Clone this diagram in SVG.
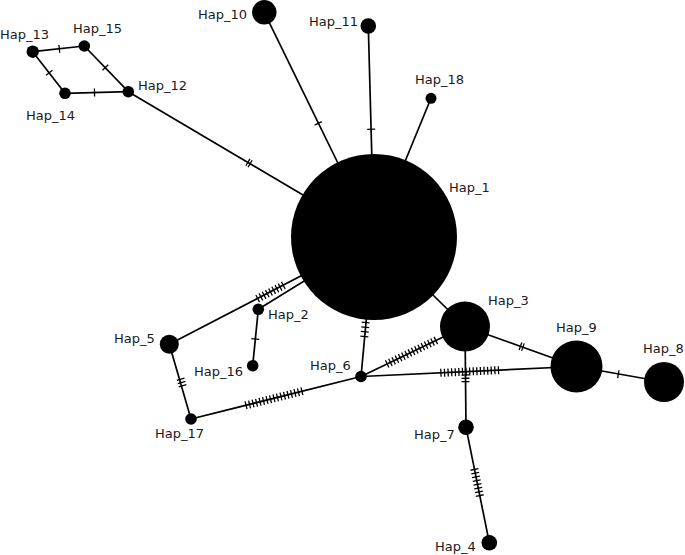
<svg xmlns="http://www.w3.org/2000/svg" width="685" height="555" viewBox="0 0 685 555">
<style>
.e{stroke:#000;stroke-width:1.7;fill:none}
.t{stroke:#000;stroke-width:1.3;fill:none}
.n{fill:#000}
text{font-family:"DejaVu Sans","Verdana",sans-serif;font-size:13px;fill:#1a1a1a}
</style>
<rect width="685" height="555" fill="#fff"/>
<g id="connectors">
<line class="e" x1="128.3" y1="91.7" x2="374" y2="237"/>
<line class="e" x1="65" y1="93.3" x2="128.3" y2="91.7"/>
<line class="e" x1="32.7" y1="51.7" x2="65" y2="93.3"/>
<line class="e" x1="32.7" y1="51.7" x2="84.3" y2="46"/>
<line class="e" x1="84.3" y1="46" x2="128.3" y2="91.7"/>
<line class="e" x1="264.3" y1="12.3" x2="374" y2="237"/>
<line class="e" x1="368.3" y1="26" x2="374" y2="237"/>
<line class="e" x1="431" y1="98.3" x2="374" y2="237"/>
<line class="e" x1="169.3" y1="344.3" x2="374" y2="238"/>
<line class="e" x1="258.3" y1="309.3" x2="374" y2="238"/>
<line class="e" x1="258.3" y1="309.3" x2="252.7" y2="365.7"/>
<line class="e" x1="169.3" y1="344.3" x2="191" y2="419"/>
<line class="e" x1="191" y1="419" x2="361" y2="376.5"/>
<line class="e" x1="361" y1="376.5" x2="374" y2="237"/>
<line class="e" x1="361" y1="376.5" x2="465" y2="326.5"/>
<line class="e" x1="361" y1="376.5" x2="576.5" y2="366.5"/>
<line class="e" x1="465" y1="326.5" x2="466" y2="427.3"/>
<line class="e" x1="465" y1="326.5" x2="374" y2="237"/>
<line class="e" x1="465" y1="326.5" x2="576.5" y2="366.5"/>
<line class="e" x1="576.5" y1="366.5" x2="664" y2="382"/>
<line class="e" x1="466" y1="427.3" x2="489.3" y2="542.7"/>
<!-- hatches -->
<path class="t" transform="translate(249,163) rotate(30.6)" d="M-1.3-4v8M1.3-4v8"/>
<path class="t" transform="translate(94.5,92.5) rotate(-1.4)" d="M0-4v8"/>
<path class="t" transform="translate(49.3,72.8) rotate(52.2)" d="M0-4v8"/>
<path class="t" transform="translate(59.3,48.8) rotate(-6.3)" d="M0-4v8"/>
<path class="t" transform="translate(105.4,67.5) rotate(46.1)" d="M0-4v8"/>
<path class="t" transform="translate(318.2,123.3) rotate(64.1)" d="M0-4v8"/>
<path class="t" transform="translate(371.2,129.3) rotate(88.5)" d="M0-4v8"/>
<path class="t" transform="translate(270.5,292) rotate(-27.3)" d="M-14.4-4v8M-10.8-4v8M-7.2-4v8M-3.6-4v8M0-4v8M3.6-4v8M7.2-4v8M10.8-4v8M14.4-4v8"/>
<path class="t" transform="translate(255.3,339) rotate(95.7)" d="M0-4v8"/>
<path class="t" transform="translate(181.6,382.5) rotate(73.8)" d="M-3.3-4v8M0-4v8M3.3-4v8"/>
<path class="t" transform="translate(274,398.3) rotate(-14.04)" d="M-28.8-4v8M-25.2-4v8M-21.6-4v8M-18-4v8M-14.4-4v8M-10.8-4v8M-7.2-4v8M-3.6-4v8M0-4v8M3.6-4v8M7.2-4v8M10.8-4v8M14.4-4v8M18-4v8M21.6-4v8M25.2-4v8M28.8-4v8"/>
<path class="t" transform="translate(365,329.5) rotate(-84.7)" d="M-7.05-4v8M-2.35-4v8M2.35-4v8M7.05-4v8"/>
<path class="t" transform="translate(411.5,352.2) rotate(-25.7)" d="M-27-4v8M-23.4-4v8M-19.8-4v8M-16.2-4v8M-12.6-4v8M-9-4v8M-5.4-4v8M-1.8-4v8M1.8-4v8M5.4-4v8M9-4v8M12.6-4v8M16.2-4v8M19.8-4v8M23.4-4v8M27-4v8"/>
<path class="t" transform="translate(469.7,371.5) rotate(-2.66)" d="M-28.8-4v8M-25.2-4v8M-21.6-4v8M-18-4v8M-14.4-4v8M-10.8-4v8M-7.2-4v8M-3.6-4v8M0-4v8M3.6-4v8M7.2-4v8M10.8-4v8M14.4-4v8M18-4v8M21.6-4v8M25.2-4v8M28.8-4v8"/>
<path class="t" transform="translate(465.5,378.3) rotate(89.4)" d="M-3.3-4v8M0-4v8M3.3-4v8"/>
<path class="t" transform="translate(521.7,346.7) rotate(19.7)" d="M-1.3-4v8M1.3-4v8"/>
<path class="t" transform="translate(618.3,374.2) rotate(10)" d="M0-4v8"/>
<path class="t" transform="translate(477.1,482.5) rotate(78.6)" d="M-13.3-4v8M-9.5-4v8M-5.7-4v8M-1.9-4v8M1.9-4v8M5.7-4v8M9.5-4v8M13.3-4v8"/>
</g>
<g id="Hap_1"><circle class="n" cx="374" cy="237" r="83"/><text x="449" y="192">Hap_1</text></g>
<g id="Hap_2"><circle class="n" cx="258.3" cy="309.3" r="5.8"/><text x="268" y="319">Hap_2</text></g>
<g id="Hap_3"><circle class="n" cx="465" cy="326.5" r="25"/><text x="488" y="304.5">Hap_3</text></g>
<g id="Hap_4"><circle class="n" cx="489.3" cy="542.7" r="7.8"/><text x="435" y="551">Hap_4</text></g>
<g id="Hap_5"><circle class="n" cx="169.3" cy="344.3" r="9.5"/><text x="114" y="343">Hap_5</text></g>
<g id="Hap_6"><circle class="n" cx="361" cy="376.5" r="5.8"/><text x="310" y="369.5">Hap_6</text></g>
<g id="Hap_7"><circle class="n" cx="466" cy="427.3" r="7.8"/><text x="414" y="439">Hap_7</text></g>
<g id="Hap_8"><circle class="n" cx="664" cy="382" r="20"/><text x="643" y="353">Hap_8</text></g>
<g id="Hap_9"><circle class="n" cx="576.5" cy="366.5" r="26"/><text x="556" y="332">Hap_9</text></g>
<g id="Hap_10"><circle class="n" cx="264.3" cy="12.3" r="12.2"/><text x="198" y="19">Hap_10</text></g>
<g id="Hap_11"><circle class="n" cx="368.3" cy="26" r="7.8"/><text x="309" y="26">Hap_11</text></g>
<g id="Hap_12"><circle class="n" cx="128.3" cy="91.7" r="5.8"/><text x="138" y="90">Hap_12</text></g>
<g id="Hap_13"><circle class="n" cx="32.7" cy="51.7" r="6.2"/><text x="0" y="39">Hap_13</text></g>
<g id="Hap_14"><circle class="n" cx="65" cy="93.3" r="5.8"/><text x="26" y="120">Hap_14</text></g>
<g id="Hap_15"><circle class="n" cx="84.3" cy="46" r="5.8"/><text x="73" y="33">Hap_15</text></g>
<g id="Hap_16"><circle class="n" cx="252.7" cy="365.7" r="5.8"/><text x="194" y="376">Hap_16</text></g>
<g id="Hap_17"><circle class="n" cx="191" cy="419" r="5.8"/><text x="155" y="438">Hap_17</text></g>
<g id="Hap_18"><circle class="n" cx="431" cy="98.3" r="5.5"/><text x="415" y="83.5">Hap_18</text></g>
</svg>
